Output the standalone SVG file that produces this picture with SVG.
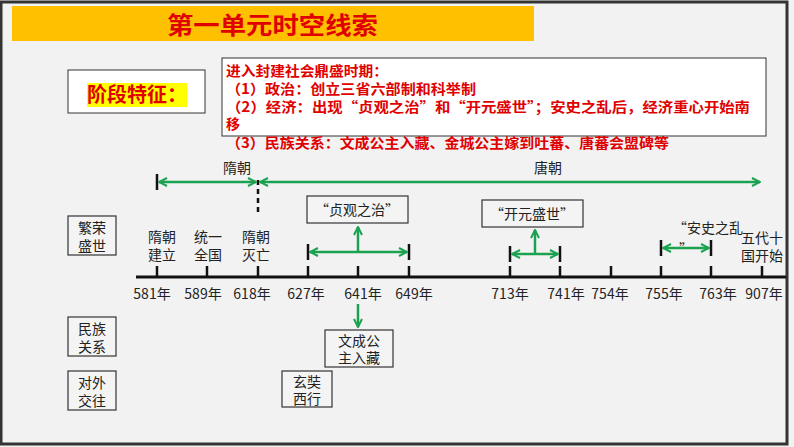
<svg xmlns="http://www.w3.org/2000/svg" width="794" height="447" viewBox="0 0 794 447">
<defs>
<marker id="ah" viewBox="0 0 10 10" refX="9" refY="5" markerWidth="4" markerHeight="4" orient="auto-start-reverse" markerUnits="strokeWidth"><path d="M1,1 L9,5 L1,9" fill="none" stroke="#1aa251" stroke-width="2"/></marker>
<style>
.t{font-family:"Noto Sans CJK SC","Liberation Sans",sans-serif;font-size:14px;fill:#222;text-anchor:middle}
.r{font-family:"Noto Sans CJK SC",sans-serif;font-weight:bold;fill:#e00000;font-size:14px}
.b{fill:#f4f4f4;stroke:#333;stroke-width:1.2}
.g{stroke:#1aa251;stroke-width:2.5;fill:none}
.k{stroke:#111;stroke-width:2.5}
</style>
</defs>
<rect width="794" height="447" fill="#f2f2f2"/>
<rect x="1" y="2" width="786" height="442" fill="none" stroke="#333" stroke-width="3"/>
<g id="header"><rect x="12" y="6" width="522" height="35" fill="#FFC000"/>
<text x="167" y="34" font-family="Noto Sans CJK SC,sans-serif" font-weight="bold" font-size="24" fill="#e00000" textLength="211" lengthAdjust="spacingAndGlyphs">第一单元时空线索</text></g>
<g id="stage"><rect x="68" y="70" width="137" height="43" fill="#fff" stroke="#333"/>
<rect x="87" y="83" width="100" height="24" fill="#ffff00"/>
<text x="87" y="102" font-family="Noto Sans CJK SC,sans-serif" font-weight="bold" font-size="20" fill="#e00000" textLength="100" lengthAdjust="spacingAndGlyphs">阶段特征：</text></g>
<g id="desc"><rect x="222" y="58" width="544" height="78" fill="#fff" stroke="#333"/>
<text class="r" x="226" y="76" textLength="162" lengthAdjust="spacingAndGlyphs">进入封建社会鼎盛时期：</text>
<text class="r" x="226" y="94" textLength="250" lengthAdjust="spacingAndGlyphs">（1）政治：创立三省六部制和科举制</text>
<text class="r" x="226" y="112" textLength="524" lengthAdjust="spacingAndGlyphs">（2）经济：出现“贞观之治”和“开元盛世”；安史之乱后，经济重心开始南</text>
<text class="r" x="226" y="129">移</text>
<text class="r" x="226" y="148" textLength="443" lengthAdjust="spacingAndGlyphs">（3）民族关系：文成公主入藏、金城公主嫁到吐蕃、唐蕃会盟碑等</text></g>
<g id="connectors">
<line x1="136" y1="277" x2="786" y2="277" stroke="#111" stroke-width="3"/>
<g class="k">
<line x1="157" y1="266" x2="157" y2="277"/><line x1="207" y1="266" x2="207" y2="277"/><line x1="258" y1="266" x2="258" y2="277"/><line x1="308" y1="266" x2="308" y2="277"/><line x1="358" y1="266" x2="358" y2="277"/><line x1="409" y1="266" x2="409" y2="277"/><line x1="510" y1="266" x2="510" y2="277"/><line x1="560" y1="266" x2="560" y2="277"/><line x1="611" y1="266" x2="611" y2="277"/><line x1="661" y1="266" x2="661" y2="277"/><line x1="711" y1="266" x2="711" y2="277"/><line x1="762" y1="266" x2="762" y2="277"/>
<line x1="157" y1="174" x2="157" y2="190"/>
<line x1="258" y1="180" x2="258" y2="215" stroke-dasharray="5,4"/>
<line x1="308" y1="244" x2="308" y2="260"/><line x1="409" y1="244" x2="409" y2="260"/>
<line x1="510" y1="246" x2="510" y2="262"/><line x1="560" y1="246" x2="560" y2="262"/>
<line x1="661" y1="240" x2="661" y2="256"/><line x1="711" y1="240" x2="711" y2="256"/>
</g>
<line class="g" x1="159" y1="182" x2="256" y2="182" marker-start="url(#ah)" marker-end="url(#ah)"/>
<line class="g" x1="260" y1="182" x2="760" y2="182" marker-start="url(#ah)" marker-end="url(#ah)"/>
<line class="g" x1="310" y1="252" x2="407" y2="252" marker-start="url(#ah)" marker-end="url(#ah)"/>
<line class="g" x1="358" y1="252" x2="358" y2="227" marker-end="url(#ah)"/>
<line class="g" x1="512" y1="254" x2="558" y2="254" marker-start="url(#ah)" marker-end="url(#ah)"/>
<line class="g" x1="535" y1="254" x2="535" y2="230" marker-end="url(#ah)"/>
<line class="g" x1="663" y1="248" x2="709" y2="248" marker-start="url(#ah)" marker-end="url(#ah)"/>
<line class="g" x1="358" y1="304" x2="358" y2="327" marker-end="url(#ah)"/>
</g>
<g id="years">
<text class="t" x="152" y="299">581年</text><text class="t" x="203" y="299">589年</text><text class="t" x="252" y="299">618年</text><text class="t" x="306" y="299">627年</text><text class="t" x="363" y="299">641年</text><text class="t" x="414" y="299">649年</text><text class="t" x="510" y="299">713年</text><text class="t" x="566" y="299">741年</text><text class="t" x="610" y="299">754年</text><text class="t" x="664" y="299">755年</text><text class="t" x="718" y="299">763年</text><text class="t" x="764" y="299">907年</text>
</g>
<g id="dynasties"><text class="t" x="237" y="173">隋朝</text><text class="t" x="548" y="173">唐朝</text></g>
<g id="events">
<text class="t" x="162" y="242">隋朝</text><text class="t" x="162" y="260">建立</text>
<text class="t" x="208" y="242">统一</text><text class="t" x="208" y="260">全国</text>
<text class="t" x="256" y="242">隋朝</text><text class="t" x="256" y="260">灭亡</text>
<text class="t" x="762" y="243">五代十</text><text class="t" x="762" y="261">国开始</text>
<text class="t" x="708" y="233">“安史之乱</text><text class="t" x="686" y="254" font-size="11">”</text>
</g>
<g id="zhenguan"><rect class="b" x="307" y="196" width="101" height="27"/><text class="t" x="357" y="215">“贞观之治”</text></g>
<g id="kaiyuan"><rect class="b" x="482" y="200" width="101" height="27"/><text class="t" x="532" y="219">“开元盛世”</text></g>
<g id="cat1"><rect class="b" x="68" y="216" width="48" height="39"/><text class="t" x="92" y="233">繁荣</text><text class="t" x="92" y="251">盛世</text></g>
<g id="cat2"><rect class="b" x="68" y="317" width="48" height="39"/><text class="t" x="92" y="334">民族</text><text class="t" x="92" y="352">关系</text></g>
<g id="cat3"><rect class="b" x="68" y="371" width="48" height="39"/><text class="t" x="92" y="388">对外</text><text class="t" x="92" y="406">交往</text></g>
<g id="wencheng"><rect class="b" x="325" y="330" width="68" height="37"/><text class="t" x="359" y="346">文成公</text><text class="t" x="359" y="363">主入藏</text></g>
<g id="xuanzang"><rect class="b" x="282" y="371" width="50" height="36"/><text class="t" x="307" y="387">玄奘</text><text class="t" x="307" y="404">西行</text></g>
</svg>
